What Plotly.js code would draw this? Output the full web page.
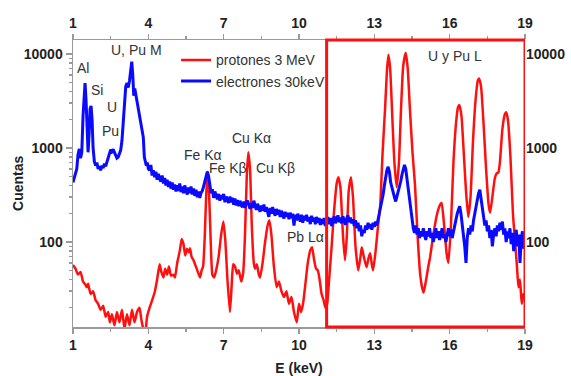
<!DOCTYPE html>
<html>
<head>
<meta charset="utf-8">
<script src="https://cdn.plot.ly/plotly-3.0.1.min.js"></script>
<style>html,body{margin:0;padding:0;background:#fff}#chart{width:571px;height:376px}</style>
</head>
<body>
<div id="chart"></div>
<script>
// Electron-excited spectrum (30 keV) – energy (keV) and counts
var eBlue = [1.00,1.05,1.10,1.15,1.20,1.25,1.30,1.35,1.40,1.45,1.48,1.52,1.56,1.60,1.64,1.68,1.72,1.76,1.80,1.85,1.90,1.95,2.00,2.05,2.10,2.15,2.20,2.25,2.30,2.35,2.40,2.45,2.50,2.55,2.60,2.65,2.70,2.75,2.80,2.85,2.90,2.95,3.00,3.05,3.10,3.15,3.20,3.25,3.30,3.34,3.38,3.42,3.46,3.50,3.55,3.60,3.65,3.70,3.75,3.80,3.84,3.88,3.92,3.96,4.00,
4.05,4.10,4.15,4.20,4.25,4.30,4.35,4.40,4.45,4.50,4.55,4.60,4.65,4.70,4.75,4.80,4.85,4.90,4.95,5.00,5.05,5.10,5.15,5.20,5.25,5.30,5.35,5.40,5.45,5.50,5.55,5.60,5.65,5.70,5.75,5.80,5.85,5.90,5.95,6.00,6.05,6.10,6.15,6.20,6.25,6.30,6.35,6.40,6.45,6.50,6.55,6.60,6.65,6.70,6.75,6.80,6.85,6.90,6.95,7.00,
7.05,7.10,7.15,7.20,7.25,7.30,7.35,7.40,7.45,7.50,7.55,7.60,7.65,7.70,7.75,7.80,7.85,7.90,7.95,8.00,8.05,8.10,8.15,8.20,8.25,8.30,8.35,8.40,8.45,8.50,8.55,8.60,8.65,8.70,8.75,8.80,8.85,8.90,8.95,9.00,9.05,9.10,9.15,9.20,9.25,9.30,9.35,9.40,9.45,9.50,9.55,9.60,9.65,9.70,9.75,9.80,9.85,9.90,9.95,10.00,
10.05,10.10,10.15,10.20,10.25,10.30,10.35,10.40,10.45,10.50,10.55,10.60,10.65,10.70,10.75,10.80,10.85,10.90,10.95,11.00,11.05,11.10,11.15,11.20,11.25,11.30,11.35,11.40,11.45,11.50,11.55,11.60,11.65,11.70,11.75,11.80,11.85,11.90,11.95,12.00,12.05,12.10,12.15,12.20,12.25,12.30,12.35,12.40,12.45,12.50,12.55,12.60,12.65,12.70,12.75,12.80,12.85,12.90,12.95,13.00,
13.05,13.10,13.15,13.20,13.25,13.30,13.35,13.40,13.45,13.50,13.55,13.60,13.65,13.70,13.75,13.80,13.85,13.90,13.95,14.00,14.05,14.10,14.15,14.20,14.25,14.30,14.35,14.40,14.45,14.50,14.55,14.60,14.65,14.70,14.75,14.80,14.85,14.90,14.95,15.00,15.05,15.10,15.15,15.20,15.25,15.30,15.35,15.40,15.45,15.50,15.55,15.60,15.65,15.70,15.75,15.80,15.85,15.90,15.95,16.00,
16.05,16.10,16.15,16.20,16.25,16.30,16.35,16.40,16.45,16.50,16.55,16.60,16.65,16.70,16.75,16.80,16.85,16.90,16.95,17.00,17.05,17.10,17.15,17.20,17.25,17.30,17.35,17.40,17.45,17.50,17.55,17.60,17.65,17.70,17.75,17.80,17.85,17.90,17.95,18.00,18.05,18.10,18.15,18.20,18.25,18.30,18.35,18.40,18.45,18.50,18.55,18.60,18.65,18.70,18.75,18.80,18.85,18.90,18.95,19.00];
var cBlue = [430,480,520,600,850,980,780,900,2200,4300,4900,3200,1300,900,1400,2600,2800,2000,1000,720,650,700,600,640,580,650,610,680,640,720,760,900,960,920,970,900,820,780,800,860,950,1200,1800,3000,4500,4900,4400,5200,7200,8300,6000,3600,4300,3700,3200,2600,2100,1900,1600,1300,800,720,650,700,600,
580,660,510,580,490,560,460,530,470,440,510,420,480,400,460,385,440,370,430,360,410,345,400,350,420,340,390,330,400,345,320,380,330,390,320,370,310,360,300,345,295,335,350,390,450,520,560,500,400,330,365,295,345,305,285,325,275,315,285,325,
265,305,275,260,305,265,295,250,290,245,280,240,275,245,235,270,230,265,275,245,225,260,230,275,235,220,255,225,210,245,215,250,210,235,205,185,230,200,235,205,190,225,195,220,185,215,190,178,210,185,205,175,205,180,200,150,195,170,200,175,
165,195,160,190,170,195,165,185,155,190,165,182,155,185,160,180,152,175,155,180,148,168,185,155,180,148,172,188,158,178,192,162,182,158,188,168,152,178,192,162,182,158,175,148,170,140,160,130,150,115,135,125,150,135,160,140,155,135,160,145,
165,150,175,190,230,260,320,400,500,580,630,560,430,380,320,300,270,300,350,380,440,520,610,660,600,470,380,280,220,170,140,125,150,120,140,110,130,115,140,120,105,130,115,140,110,125,100,120,140,110,130,105,125,140,110,120,100,125,140,115,
135,110,130,150,180,200,220,240,200,160,120,90,60,110,140,120,150,130,170,200,240,290,330,360,290,230,180,150,170,130,150,110,135,90,120,140,115,150,130,160,135,165,120,140,100,130,110,140,95,125,80,115,135,90,120,60,110,130,85,100];

// Proton-excited spectrum (3 MeV) – energy (keV) and counts
var eRed = [1.00,1.10,1.20,1.30,1.40,1.50,1.55,1.60,1.70,1.80,1.90,2.00,2.10,2.20,2.30,2.40,2.47,2.55,2.65,2.75,2.85,2.95,3.05,3.15,3.25,3.35,3.45,3.55,3.65,3.72,3.80,3.88,3.95,4.05,4.15,4.25,4.35,4.45,4.52,4.60,4.67,4.75,4.82,4.90,5.00,5.06,5.15,5.25,5.33,5.40,5.47,5.54,5.60,5.66,5.72,5.80,5.86,5.95,6.06,6.12,6.18,6.25,6.30,6.36,6.42,6.48,6.55,6.62,6.70,6.80,6.90,6.99,7.07,7.15,7.25,7.32,7.38,7.45,7.53,7.60,7.70,7.78,7.85,7.92,7.98,8.05,8.12,8.20,8.25,8.32,8.40,8.45,8.55,8.65,8.75,8.82,8.90,9.00,9.11,9.20,9.30,9.40,9.50,9.60,9.70,9.80,9.91,10.00,10.08,10.16,10.25,10.35,10.45,10.52,10.60,10.68,10.75,10.82,10.90,10.98,11.05,11.12,11.20,11.30,11.40,11.50,11.57,11.65,11.75,11.83,11.90,11.98,12.07,12.15,12.25,12.36,12.45,12.50,12.58,12.69,12.76,12.83,12.90,12.95,13.05,13.15,13.23,13.33,13.43,13.50,13.56,13.63,13.72,13.80,13.89,13.98,14.06,14.15,14.25,14.33,14.42,14.52,14.62,14.72,14.82,14.90,14.96,15.05,15.15,15.22,15.35,15.50,15.62,15.68,15.78,15.88,15.95,16.05,16.15,16.25,16.33,16.39,16.47,16.56,16.65,16.74,16.83,16.93,17.03,17.12,17.17,17.25,17.35,17.45,17.55,17.61,17.70,17.80,17.88,17.94,18.00,18.10,18.20,18.25,18.32,18.42,18.52,18.60,18.68,18.74,18.80,18.87,18.93,19.00];
var cRed = [57,52,45,48,38,35,33,36,28,30,24,22,19,21,16,18,14,17,13,18,14,19,12,17,13,19,14,18,20,15,12,11,16,20,24,29,40,58,48,42,52,45,55,44,45,42,60,80,108,95,72,85,78,86,70,64,58,50,42,50,55,120,300,560,320,110,45,42,50,70,120,165,100,40,18,35,58,55,46,50,38,48,120,500,900,600,150,60,52,58,45,42,60,100,150,170,120,55,33,38,30,26,30,22,26,18,14,22,18,22,35,60,82,88,65,52,50,40,28,24,20,22,40,90,220,420,490,380,120,64,110,350,490,300,90,50,70,88,70,54,66,76,58,50,80,150,236,900,2700,6500,9800,7000,2000,700,385,700,2500,7500,10300,7000,2500,900,400,120,47,33,29,38,55,69,120,200,250,260,150,75,60,150,700,1800,2700,2860,2200,900,350,185,300,1200,3200,5200,5500,4500,1800,600,250,205,300,480,540,550,700,1600,2300,2400,2000,800,200,105,55,33,40,22,28,24];

var tickE = [1,4,7,10,13,16,19];
var minorE = [2.5,5.5,8.5,11.5,14.5,17.5];
var tickC = [100,1000,10000];
var tickCText = ['100','1000','10000'];

var labels = [
  {t:'Al', e:1.41, c:7100},
  {t:'Si', e:1.94, c:4170},
  {t:'U', e:2.54, c:2750},
  {t:'Pu', e:2.51, c:1510},
  {t:'U, Pu M', e:3.54, c:11000},
  {t:'Fe K\u03b1', e:6.19, c:850},
  {t:'Fe K\u03b2', e:7.19, c:620},
  {t:'Cu K\u03b1', e:8.12, c:1290},
  {t:'Cu K\u03b2', e:9.08, c:620},
  {t:'Pb L\u03b1', e:10.24, c:112},
  {t:'U y Pu L', e:16.21, c:9550}
];
var boxE = [11.1, 19];
var yTitle = 'Cuentas';
var xTitle = 'E (keV)';

var RED = '#ff1010', BLUE = '#0a0aff', AX = '#9a9a9a', TXT = '#222';
var FONT = 'Liberation Sans, Arial, sans-serif';

var traces = [
  {x:eRed, y:cRed, mode:'lines', name:'protones 3 MeV', line:{color:RED, width:2.5, shape:'spline', smoothing:0.5}},
  {x:eBlue, y:cBlue, mode:'lines', name:'electrones 30keV', line:{color:BLUE, width:3}},
  {x:[tickE[0]], y:[tickC[0]], xaxis:'x2', yaxis:'y2', mode:'markers', marker:{opacity:0}, showlegend:false, hoverinfo:'skip'}
];

var tickFont = {family:FONT, size:14, color:TXT, weight:'bold'};
var yr = [1.096, 4.149];

var anns = labels.map(function(a){
  return {x:a.e, y:Math.log10(a.c), xref:'x', yref:'y', text:a.t, showarrow:false,
          font:{family:FONT, size:14, color:'#333'}, xanchor:'center', yanchor:'middle'};
});
anns.push({x:-0.123, y:0.5, xref:'paper', yref:'paper', text:yTitle, textangle:-90, showarrow:false,
           font:{family:FONT, size:14, color:TXT, weight:'bold'}, xanchor:'center', yanchor:'middle'});

var layout = {
  width:571, height:376,
  margin:{l:73, r:46, t:40, b:49},
  paper_bgcolor:'#fff', plot_bgcolor:'#fff',
  showlegend:true,
  legend:{x:0.228, y:0.985, xanchor:'left', yanchor:'top', bgcolor:'rgba(0,0,0,0)',
          font:{family:FONT, size:14, color:'#333'}, tracegroupgap:0, itemwidth:30},
  xaxis:{range:[1,19], tickvals:tickE, ticktext:tickE.map(String), showgrid:false, zeroline:false,
         showline:true, linecolor:AX, linewidth:1.5, ticks:'outside', ticklen:5, tickcolor:AX, tickwidth:1.5,
         minor:{tickvals:minorE, ticks:'outside', ticklen:3, tickcolor:AX},
         tickfont:tickFont, anchor:'y',
         title:{text:xTitle, font:{family:FONT, size:14, color:TXT, weight:'bold'}, standoff:15}},
  xaxis2:{range:[1,19], overlaying:'x', side:'top', anchor:'y', tickvals:tickE, ticktext:tickE.map(String),
          showgrid:false, zeroline:false, showline:true, linecolor:AX, linewidth:1.5, ticks:'outside', ticklen:5,
          tickcolor:AX, tickwidth:1.5, minor:{tickvals:minorE, ticks:'outside', ticklen:3, tickcolor:AX}, tickfont:tickFont},
  yaxis:{type:'log', range:yr, tickvals:tickC, ticktext:tickCText, showgrid:false, zeroline:false,
         showline:true, linecolor:AX, linewidth:1.5, ticks:'outside', ticklen:6, tickcolor:AX, tickwidth:1.5,
         minor:{dtick:'D1', ticks:'outside', ticklen:3, tickcolor:AX, showgrid:false},
         tickfont:tickFont},
  yaxis2:{type:'log', range:yr, overlaying:'y', side:'right', anchor:'x', tickvals:tickC, ticktext:tickCText,
          showgrid:false, zeroline:false, showline:false, ticks:'', tickfont:tickFont},
  shapes:[{type:'rect', xref:'x', yref:'paper', x0:boxE[0], x1:boxE[1], y0:0, y1:1,
           line:{color:RED, width:3}, layer:'above'}],
  annotations: anns
};

Plotly.newPlot('chart', traces, layout, {staticPlot:true, displayModeBar:false});
</script>
</body>
</html>
